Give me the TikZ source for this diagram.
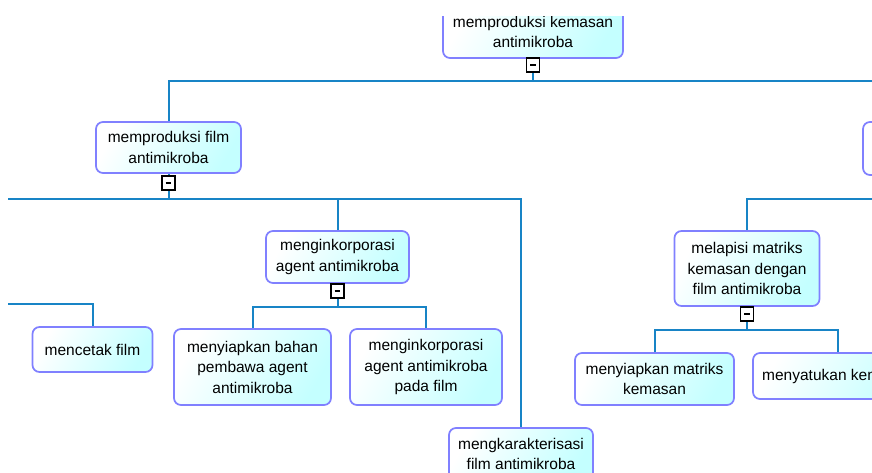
\documentclass[tikz,border=0pt]{standalone}
\usepackage{fontspec}
\setmainfont{Liberation Sans}
\definecolor{linkblue}{RGB}{24,132,198}
\definecolor{nodeedge}{RGB}{128,128,255}
\definecolor{nodefill}{RGB}{196,255,255}
\begin{document}
\begin{tikzpicture}[x=1pt,y=-1pt,
  topic/.style={draw=nodeedge, line width=1.7pt, rounded corners=7pt,
    left color=white, right color=nodefill, shading angle=60,
    inner sep=0pt, align=center, text=black,
    font=\fontsize{15.5}{20.5}\selectfont},
  link/.style={draw=linkblue, line width=2pt},
  fold/.style={draw=black, fill=white, line width=1.8pt,
    minimum width=13pt, minimum height=14pt, inner sep=0pt,
    path picture={\draw[black, line width=1.8pt]
      ([xshift=-2.8pt]path picture bounding box.center) --
      ([xshift=2.8pt]path picture bounding box.center);}}
]
\useasboundingbox (0,0) rectangle (872,472);
\fill[white] (0,0) rectangle (872,472);
\clip (8,16) rectangle (872,472);

% topics
\node[topic, minimum width=180pt, minimum height=52pt] (top) at (533,32)
  {memproduksi kemasan\\antimikroba};
\node[topic, minimum width=145pt, minimum height=51pt] (A) at (168.5,147.5)
  {memproduksi film\\antimikroba};
\node[topic, minimum width=146pt, minimum height=53pt] (R) at (936,148.5) {};
\node[topic, minimum width=143pt, minimum height=52pt] (B) at (337.5,257)
  {menginkorporasi\\agent antimikroba};
\node[topic, minimum width=157pt, minimum height=76pt] (C) at (252.5,367)
  {menyiapkan bahan\\pembawa agent\\antimikroba};
\node[topic, minimum width=152pt, minimum height=76pt] (D) at (426,367)
  {menginkorporasi\\agent antimikroba\\pada film};
\node[topic, minimum width=120pt, minimum height=45pt] (E) at (92.5,349.5)
  {mencetak film};
\node[topic, minimum width=144pt, minimum height=52pt] (F) at (521,454)
  {mengkarakterisasi\\film antimikroba};
\node[topic, minimum width=145pt, minimum height=75pt] (G) at (747,268.5)
  {melapisi matriks\\kemasan dengan\\film antimikroba};
\node[topic, minimum width=159pt, minimum height=52pt] (H) at (654.5,379)
  {menyiapkan matriks\\kemasan};
\node[topic, minimum width=170pt, minimum height=46pt] (I) at (838,376)
  {menyatukan kemasan};

% branch bars
\coordinate (tbar) at (533,81);
\coordinate (abar) at (168.5,199);
\coordinate (bbar) at (337.5,307);
\coordinate (rbar) at (936,199);
\coordinate (gbar) at (747,330);
\coordinate (offl) at (-40,230);
\coordinate (ebar) at (-20,304);

% connectors
\draw[link] (top.south) -- (tbar);
\draw[link] (A.north) |- (tbar) -| (R.north);
\draw[link] (A.south) -- (abar);
\draw[link] (offl) |- (abar) -| (F.north);
\draw[link] (B.north) -- (B.north |- abar);
\draw[link] (ebar) -| (E.north);
\draw[link] (B.south) -- (bbar);
\draw[link] (C.north) |- (bbar) -| (D.north);
\draw[link] (R.south) -- (rbar);
\draw[link] (G.north) |- (rbar);
\draw[link] (G.south) -- (gbar);
\draw[link] (H.north) |- (gbar) -| (I.north);

% collapse markers
\node[fold] (ftop) at (533,65) {};
\node[fold] (fA) at (168.5,183) {};
\node[fold] (fB) at (337.5,291) {};
\node[fold] (fR) at (936,183) {};
\node[fold] (fG) at (747,314) {};
\end{tikzpicture}
\end{document}
